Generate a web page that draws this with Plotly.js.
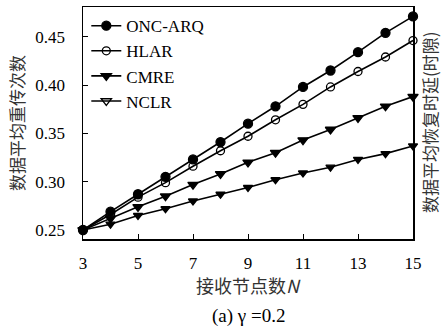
<!DOCTYPE html>
<html>
<head>
<meta charset="utf-8">
<script src="https://cdn.plot.ly/plotly-3.0.1.min.js"></script>
<style>html,body{margin:0;padding:0;background:#fff;}#chart{width:442px;height:334px;}</style>
</head>
<body>
<div id="chart"></div>
<script>
const nodes = [3,4,5,6,7,8,9,10,11,12,13,14,15];
const oncArq = [0.250,0.269,0.287,0.305,0.323,0.341,0.360,0.378,0.398,0.415,0.434,0.454,0.471];
const hlar   = [0.250,0.266,0.284,0.299,0.316,0.332,0.347,0.364,0.380,0.398,0.414,0.429,0.446];
const cmre   = [0.250,0.262,0.274,0.285,0.297,0.308,0.320,0.330,0.343,0.354,0.366,0.378,0.388];
const nclr   = [0.250,0.256,0.265,0.272,0.280,0.287,0.294,0.302,0.309,0.315,0.323,0.329,0.337];
const seriesNames = ['ONC-ARQ','HLAR','CMRE','NCLR'];
const xTicks = [3,5,7,9,11,13,15];
const yTicks = [0.25,0.30,0.35,0.40,0.45];
const yTickText = ['0.25','0.30','0.35','0.40','0.45'];

const serif = 'Liberation Serif, DejaVu Serif, serif';
const cjk = 'Noto Sans CJK SC, sans-serif';
const lineStyle = {color:'#000', width:1.6};

function tr(name, y, symbol, size, fill, showlegend){
  return {x:nodes, y:y, name:name, mode:'lines+markers', type:'scatter',
    line:lineStyle, cliponaxis:false, showlegend:showlegend,
    marker:{symbol:symbol, size:size, color:fill, line:{color:'#000', width:1.3}}};
}
const data = [
  tr(seriesNames[0], oncArq, 'circle', 9, '#000', true),
  tr(seriesNames[1], hlar, 'circle-open', 8, '#000', true),
  tr(seriesNames[2], cmre, 'triangle-down', 9, '#000', true),
  tr(seriesNames[3], nclr, 'triangle-down', 8, '#000', false),
  {x:[null], y:[null], name:seriesNames[3], mode:'lines+markers', type:'scatter',
    line:lineStyle, marker:{symbol:'triangle-down-open', size:9, color:'#000', line:{color:'#000', width:1.3}}}
];

const layout = {
  width:442, height:334,
  margin:{l:83, r:29, t:7, b:95},
  paper_bgcolor:'#fff', plot_bgcolor:'#fff',
  showlegend:true,
  legend:{x:0.01, y:0.995, xanchor:'left', yanchor:'top', bgcolor:'rgba(0,0,0,0)',
    font:{family:serif, size:17, color:'#000'}, tracegroupgap:0, itemwidth:30},
  xaxis:{range:[3,15], tickvals:xTicks, ticktext:xTicks.map(String), ticks:'inside', ticklen:5,
    tickcolor:'#000', showline:true, linecolor:'#000', linewidth:1.5, mirror:true,
    showgrid:false, zeroline:false, ticklabelstandoff:8, tickfont:{family:serif, size:17, color:'#000'}},
  yaxis:{range:[0.2407,0.4807], tickvals:yTicks, ticktext:yTickText, ticks:'inside', ticklen:5,
    tickcolor:'#000', showline:true, linecolor:'#000', linewidth:1.5, mirror:true,
    showgrid:false, zeroline:false, ticklabelstandoff:13, tickfont:{family:serif, size:17, color:'#000'},
    title:{text:'数据平均重传次数', font:{family:cjk, size:17, color:'#333'}, standoff:6}},
  annotations:[
    {xref:'paper', yref:'paper', x:0.502, y:-0.2, xanchor:'center', yanchor:'middle', showarrow:false,
     text:'接收节点数<i>N</i>', font:{family:cjk, size:18, color:'#333'}},
    {xref:'paper', yref:'paper', x:0.502, y:-0.332, xanchor:'center', yanchor:'middle', showarrow:false,
     text:'(a) γ =0.2', font:{family:serif, size:19, color:'#000'}},
    {xref:'paper', yref:'paper', x:1.048, y:0.504, xanchor:'center', yanchor:'middle', showarrow:false,
     textangle:-90, text:'数据平均恢复时延(时隙)', font:{family:cjk, size:17, color:'#333'}}
  ]
};
Plotly.newPlot('chart', data, layout, {staticPlot:true, displayModeBar:false});
</script>
</body>
</html>
